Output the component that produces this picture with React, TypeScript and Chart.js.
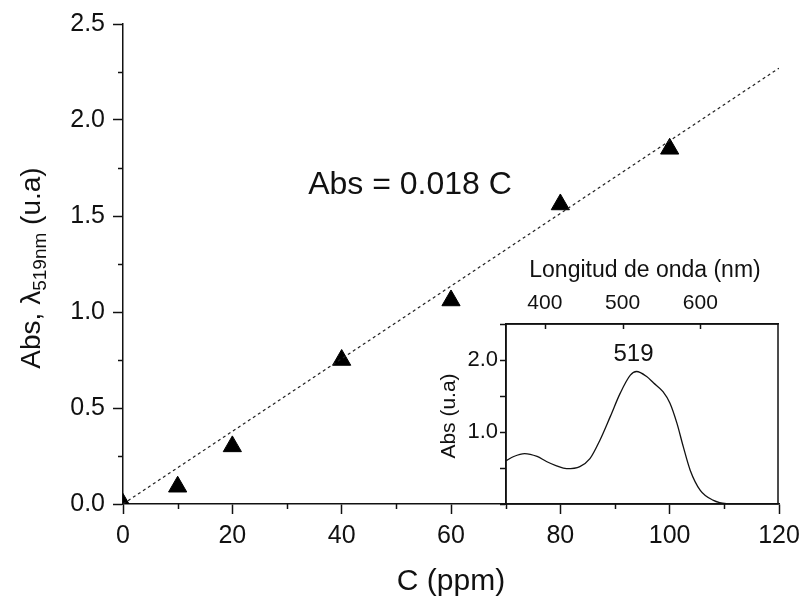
import React, { useEffect, useRef } from "react";
import { Chart, registerables } from "chart.js";

Chart.register(...registerables);

// ---- Data ----
const concentrations = [0, 10, 20, 40, 60, 80, 100];
const absorbances = [0.0, 0.09, 0.3, 0.75, 1.06, 1.56, 1.85];

const fitC = [0, 120];
const fitAbs = [0, 2.27];

const xTickValues = [0, 20, 40, 60, 80, 100, 120];
const xMinorValues = [10, 30, 50, 70, 90, 110];
const yMinorValues = [0.25, 0.75, 1.25, 1.75, 2.25];

const wavelengths = [350, 360, 374, 390, 402, 415, 428, 445, 458, 471, 484, 497, 510, 518, 531, 540, 552, 561, 570, 578, 587, 600, 617, 625, 638];
const spectrumAbs = [0.6, 0.66, 0.7, 0.66, 0.59, 0.53, 0.49, 0.52, 0.63, 0.89, 1.21, 1.54, 1.79, 1.84, 1.77, 1.68, 1.56, 1.4, 1.12, 0.8, 0.47, 0.19, 0.05, 0.02, 0.0];
const insetXTicks = [400, 500, 600];
const insetYLabelled = [1.0, 2.0];

const equationText = "Abs = 0.018 C";
const peakText = "519";
const mainXTitle = "C (ppm)";
const insetXTitle = "Longitud de onda (nm)";
const insetYTitle = "Abs (u.a)";

const FONT = "'Liberation Sans', Arial, Helvetica, sans-serif";
const INK = "#111";

const zeroPad = (s: any) => {
  s.paddingLeft = 0;
  s.paddingRight = 0;
  s.paddingTop = 0;
  s.paddingBottom = 0;
};

const mainDecor = {
  id: "mainDecor",
  afterDraw(chart: any) {
    const { ctx, chartArea } = chart;
    const xs = chart.scales.x;
    const ys = chart.scales.y;
    ctx.save();
    ctx.strokeStyle = INK;
    ctx.lineWidth = 1.5;
    for (const v of xMinorValues) {
      const px = Math.round(xs.getPixelForValue(v)) + 0.5;
      ctx.beginPath();
      ctx.moveTo(px, chartArea.bottom);
      ctx.lineTo(px, chartArea.bottom + 5);
      ctx.stroke();
    }
    for (const v of yMinorValues) {
      const py = Math.round(ys.getPixelForValue(v)) + 0.5;
      ctx.beginPath();
      ctx.moveTo(chartArea.left, py);
      ctx.lineTo(chartArea.left - 5, py);
      ctx.stroke();
    }
    ctx.fillStyle = INK;
    ctx.font = `32px ${FONT}`;
    ctx.textAlign = "center";
    ctx.textBaseline = "middle";
    ctx.fillText(equationText, xs.getPixelForValue(52.5), ys.getPixelForValue(1.66));
    ctx.font = `30px ${FONT}`;
    ctx.fillText(mainXTitle, (chartArea.left + chartArea.right) / 2, 582);
    // y title with subscript, rotated
    const cy = (chartArea.top + chartArea.bottom) / 2 + 4;
    const baseX = 40;
    ctx.translate(baseX, cy);
    ctx.rotate(-Math.PI / 2);
    ctx.textAlign = "left";
    ctx.textBaseline = "alphabetic";
    const partA = "Abs, \u03BB";
    const partSub = "519nm";
    const partB = " (u.a)";
    ctx.font = `28px ${FONT}`;
    const wA = ctx.measureText(partA).width;
    const wB = ctx.measureText(partB).width;
    ctx.font = `19px ${FONT}`;
    const wS = ctx.measureText(partSub).width;
    const total = wA + wS + wB;
    let x0 = -total / 2;
    ctx.font = `28px ${FONT}`;
    ctx.fillText(partA, x0, 0);
    x0 += wA;
    ctx.font = `19px ${FONT}`;
    ctx.fillText(partSub, x0, 6);
    x0 += wS;
    ctx.font = `28px ${FONT}`;
    ctx.fillText(partB, x0, 0);
    ctx.restore();
  },
};

const insetDecor = {
  id: "insetDecor",
  afterDraw(chart: any) {
    const { ctx, chartArea } = chart;
    const xs = chart.scales.x;
    const ys = chart.scales.y;
    ctx.save();
    ctx.strokeStyle = INK;
    ctx.lineWidth = 1.5;
    ctx.strokeRect(chartArea.left, chartArea.top, chartArea.right - chartArea.left, chartArea.bottom - chartArea.top);
    for (const v of insetXTicks) {
      const px = Math.round(xs.getPixelForValue(v)) + 0.5;
      ctx.beginPath();
      ctx.moveTo(px, chartArea.top);
      ctx.lineTo(px, chartArea.top + 5);
      ctx.stroke();
    }
    ctx.fillStyle = INK;
    ctx.textAlign = "center";
    ctx.textBaseline = "middle";
    ctx.font = `23px ${FONT}`;
    ctx.fillText(insetXTitle, 215, 21);
    ctx.font = `24px ${FONT}`;
    ctx.fillText(peakText, xs.getPixelForValue(514), ys.getPixelForValue(2.08));
    ctx.translate(19, 166);
    ctx.rotate(-Math.PI / 2);
    ctx.font = `21px ${FONT}`;
    ctx.fillText(insetYTitle, 0, 0);
    ctx.restore();
  },
};

export default function App() {
  const mainRef = useRef<HTMLCanvasElement>(null);
  const insetRef = useRef<HTMLCanvasElement>(null);

  useEffect(() => {
    if (!mainRef.current || !insetRef.current) return;

    const main = new Chart(mainRef.current, {
      type: "scatter",
      data: {
        datasets: [
          {
            type: "line",
            data: fitC.map((x, i) => ({ x, y: fitAbs[i] })),
            borderColor: "#222",
            borderWidth: 1.2,
            borderDash: [3, 3],
            pointRadius: 0,
            fill: false,
          } as any,
          {
            data: concentrations.map((x, i) => ({ x, y: absorbances[i] })),
            pointStyle: "triangle",
            pointRadius: 10.5,
            pointHoverRadius: 10.5,
            backgroundColor: "#000",
            borderColor: "#000",
            borderWidth: 1,
            clip: 0,
          } as any,
        ],
      },
      options: {
        animation: false,
        responsive: false,
        maintainAspectRatio: false,
        events: [],
        layout: { padding: { left: 0, top: 24, right: 23, bottom: 0 } },
        plugins: { legend: { display: false }, tooltip: { enabled: false } },
        scales: {
          x: {
            type: "linear",
            min: 0,
            max: 120,
            afterBuildTicks: (s: any) => {
              s.ticks = xTickValues.map((v) => ({ value: v }));
            },
            ticks: {
              autoSkip: false,
              maxRotation: 0,
              font: { family: FONT, size: 25 },
              color: INK,
              padding: 7,
            },
            grid: { drawOnChartArea: false, drawTicks: true, tickLength: 10, tickColor: INK, tickWidth: 1.5 },
            border: { color: INK, width: 1.5 },
            afterFit: (s: any) => {
              s.height = 100;
              zeroPad(s);
            },
          },
          y: {
            type: "linear",
            min: 0,
            max: 2.5,
            ticks: {
              stepSize: 0.5,
              font: { family: FONT, size: 25 },
              color: INK,
              padding: 8,
              callback: (v: any) => Number(v).toFixed(1),
            },
            grid: { drawOnChartArea: false, drawTicks: true, tickLength: 10, tickColor: INK, tickWidth: 1.5 },
            border: { color: INK, width: 1.5 },
            afterFit: (s: any) => {
              s.width = 123;
              zeroPad(s);
            },
          },
        },
      } as any,
      plugins: [mainDecor],
    });

    const inset = new Chart(insetRef.current, {
      type: "line",
      data: {
        datasets: [
          {
            data: wavelengths.map((x, i) => ({ x, y: spectrumAbs[i] })),
            borderColor: INK,
            borderWidth: 1.3,
            pointRadius: 0,
            tension: 0.4,
            cubicInterpolationMode: "monotone",
            fill: false,
          } as any,
        ],
      },
      options: {
        animation: false,
        responsive: false,
        maintainAspectRatio: false,
        events: [],
        layout: { padding: { left: 0, top: 0, right: 12, bottom: 6 } },
        plugins: { legend: { display: false }, tooltip: { enabled: false } },
        scales: {
          x: {
            type: "linear",
            position: "top",
            min: 350,
            max: 700,
            afterBuildTicks: (s: any) => {
              s.ticks = insetXTicks.map((v) => ({ value: v }));
            },
            ticks: {
              autoSkip: false,
              maxRotation: 0,
              font: { family: FONT, size: 21 },
              color: INK,
              padding: 8,
            },
            grid: { drawOnChartArea: false, drawTicks: false },
            border: { color: INK, width: 1.5 },
            afterFit: (s: any) => {
              s.height = 74;
              zeroPad(s);
            },
          },
          y: {
            type: "linear",
            min: 0,
            max: 2.5,
            ticks: {
              stepSize: 0.5,
              font: { family: FONT, size: 22 },
              color: INK,
              padding: 2,
              callback: (v: any) => (insetYLabelled.includes(Number(v)) ? Number(v).toFixed(1) : ""),
            },
            grid: { drawOnChartArea: false, drawTicks: true, tickLength: 6, tickColor: INK, tickWidth: 1.5 },
            border: { color: INK, width: 1.5 },
            afterFit: (s: any) => {
              s.width = 76;
              zeroPad(s);
            },
          },
        },
      } as any,
      plugins: [insetDecor],
    });

    return () => {
      main.destroy();
      inset.destroy();
    };
  }, []);

  return (
    <div style={{ position: "absolute", left: 0, top: 0, width: 802, height: 604, background: "#fff" }}>
      <canvas ref={mainRef} width={802} height={604} style={{ position: "absolute", left: 0, top: 0, width: 802, height: 604 }} />
      <canvas ref={insetRef} width={360} height={260} style={{ position: "absolute", left: 430, top: 250, width: 360, height: 260 }} />
    </div>
  );
}
